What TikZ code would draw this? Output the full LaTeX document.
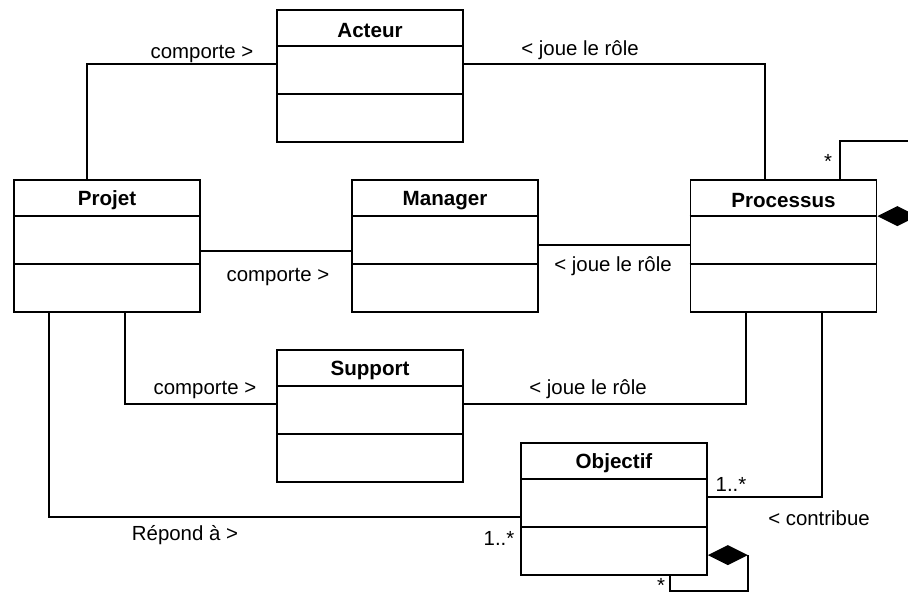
\documentclass[tikz,border=0pt]{standalone}
\usepackage{fontspec}
\setmainfont{Liberation Sans}
\usetikzlibrary{calc}
\newcommand\umlclass[4]{%
  \node[classbox] (#1) at (#2,#3) {};
  \node[ttl] (#1-t) at ($(#1.north)+(0,21)$) {#4};
  \draw ($(#1.north west)+(0,37)$) -- ($(#1.north east)+(0,37)$);
  \draw ($(#1.north west)+(0,85)$) -- ($(#1.north east)+(0,85)$);
}
\begin{document}
\begin{tikzpicture}[x=1pt,y=-1pt, line width=1.7pt,
  every node/.style={font=\fontsize{20.4}{24}\selectfont, inner sep=0pt},
  classbox/.style={draw, minimum width=186pt, minimum height=132pt, inner sep=0pt},
  ttl/.style={font=\fontsize{20.6}{24}\selectfont\bfseries},
  compo/.style={fill=black}]
\useasboundingbox (0,0) rectangle (908,595);
\clip (0,0) rectangle (908,595);

\umlclass{acteur}{370}{76}{Acteur}
\umlclass{projet}{107}{246}{Projet}
\umlclass{manager}{445}{246}{Manager}
\umlclass{processus}{783.5}{246}{Processus}
\umlclass{support}{370}{416}{Support}
\umlclass{objectif}{614}{509}{Objectif}

% Projet - Acteur
\draw ($(projet.north west)+(74,0)$) |- ($(acteur.north west)+(0,55)$);
\node (l1) at (202,54) {comporte >};
% Acteur - Processus
\draw ($(acteur.north east)+(0,55)$) -| ($(processus.north west)+(75,0)$);
\node (l2) at (580,50) {< joue le rôle};
% Projet - Manager
\draw ($(projet.north east)+(0,72)$) -- ($(manager.north west)+(0,72)$);
\node (l3) at (278,277) {comporte >};
% Manager - Processus
\draw ($(manager.north east)+(0,66)$) -- ($(processus.north west)+(0,66)$);
\node (l4) at (613,266) {< joue le rôle};
% Projet - Support
\draw ($(projet.south west)+(112,0)$) |- ($(support.north west)+(0,55)$);
\node (l5) at (205,390) {comporte >};
% Support - Processus
\draw ($(support.north east)+(0,55)$) -| ($(processus.south west)+(56,0)$);
\node (l6) at (588,389) {< joue le rôle};
% Projet - Objectif
\draw ($(projet.south west)+(36,0)$) |- ($(objectif.north west)+(0,75)$);
\node (l7) at (185,535) {Répond à >};
\node (m1) at (499,538) {1..*};
% Processus - Objectif
\draw ($(processus.south west)+(132,0)$) |- ($(objectif.north east)+(0,55)$);
\node (m2) at (731,484) {1..*};
\node (l8) at (819,518) {< contribue};

% Processus self composition
\coordinate (pd) at ($(processus.north east)+(0,37)$);
\fill[compo] (pd) -- ++(20,-10) -- ++(20,10) -- ++(-20,10) -- cycle;
\draw ($(processus.north west)+(150,0)$) |- (960,141) |- ($(pd)+(40,0)$);
\node (m3) at (828,161) {*};

% Objectif self composition
\coordinate (od) at ($(objectif.north east)+(0,113)$);
\fill[compo] (od) -- ++(20,-10) -- ++(20,10) -- ++(-20,10) -- cycle;
\draw ($(od)+(40,0)$) -- ++(0,36) -| ($(objectif.south west)+(150,0)$);
\node (m4) at (661,585.5) {*};
\end{tikzpicture}
\end{document}
